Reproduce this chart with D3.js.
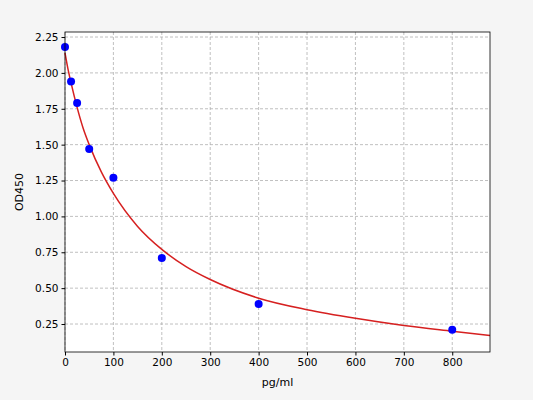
<!DOCTYPE html>
<html><head><meta charset="utf-8">
<script src="https://cdn.jsdelivr.net/npm/d3@7"></script>
<style>body{margin:0;background:#f5f5f5}</style>
</head><body>
<svg id="chart" width="533" height="400"></svg>
<script>
// measured standards
const concX = [0, 12.5, 25, 50, 100, 200, 400, 800];
const odY = [2.18, 1.94, 1.79, 1.47, 1.27, 0.71, 0.39, 0.21];
// fitted curve
const curveX = [0, 6, 12.5, 25, 37, 50, 75, 100, 150, 200, 250, 300, 400, 500, 600, 700, 800, 878];
const curveY = [2.14, 2.03, 1.93, 1.76, 1.62, 1.50, 1.31, 1.16, 0.93, 0.77, 0.65, 0.56, 0.43, 0.35, 0.29, 0.24, 0.20, 0.17];
const xTicks = [0, 100, 200, 300, 400, 500, 600, 700, 800];
const yTicks = [0.25, 0.5, 0.75, 1.0, 1.25, 1.5, 1.75, 2.0, 2.25];

const svg = d3.select("#chart");
const m = {left: 65, top: 32, right: 490, bottom: 352};
const x = d3.scaleLinear().domain([0, 878]).range([m.left, m.right]);
const y = d3.scaleLinear().domain([0.055, 2.285]).range([m.bottom, m.top]);

svg.append("rect").attr("x", m.left).attr("y", m.top)
    .attr("width", m.right - m.left).attr("height", m.bottom - m.top).attr("fill", "#fff");

const grid = svg.append("g").attr("stroke", "#b0b0b0").attr("stroke-dasharray", "3,2").attr("stroke-width", 0.8);
xTicks.forEach(t => grid.append("line").attr("x1", x(t)).attr("x2", x(t)).attr("y1", m.top).attr("y2", m.bottom));
yTicks.forEach(t => grid.append("line").attr("y1", y(t)).attr("y2", y(t)).attr("x1", m.left).attr("x2", m.right));

const line = d3.line().x((d, i) => x(curveX[i])).y(d => y(d)).curve(d3.curveMonotoneX);
svg.append("path").datum(curveY).attr("d", line).attr("fill", "none").attr("stroke", "#d62020").attr("stroke-width", 1.5);

svg.selectAll("circle.pt").data(odY).join("circle")
    .attr("cx", (d, i) => x(concX[i])).attr("cy", d => y(d)).attr("r", 4).attr("fill", "#0000ff");

const xa = svg.append("g").attr("transform", `translate(0,${m.bottom})`)
    .call(d3.axisBottom(x).tickValues(xTicks).tickSize(3.5).tickFormat(d3.format("d")));
const ya = svg.append("g").attr("transform", `translate(${m.left},0)`)
    .call(d3.axisLeft(y).tickValues(yTicks).tickSize(3.5).tickFormat(d3.format(".2f")));
[xa, ya].forEach(a => {
  a.select(".domain").remove();
  a.selectAll("text").attr("font-family", "DejaVu Sans").attr("font-size", 10.5).attr("fill", "#000");
  a.selectAll("line").attr("stroke", "#000");
});
svg.append("rect").attr("x", m.left).attr("y", m.top)
    .attr("width", m.right - m.left).attr("height", m.bottom - m.top)
    .attr("fill", "none").attr("stroke", "#000").attr("stroke-width", 0.8);

svg.append("text").attr("x", (m.left + m.right) / 2).attr("y", 386).attr("text-anchor", "middle")
    .attr("font-family", "DejaVu Sans").attr("font-size", 11).text("pg/ml");
svg.append("text").attr("transform", `translate(23,${(m.top + m.bottom) / 2}) rotate(-90)`)
    .attr("text-anchor", "middle").attr("font-family", "DejaVu Sans").attr("font-size", 11).text("OD450");
</script>
</body></html>
